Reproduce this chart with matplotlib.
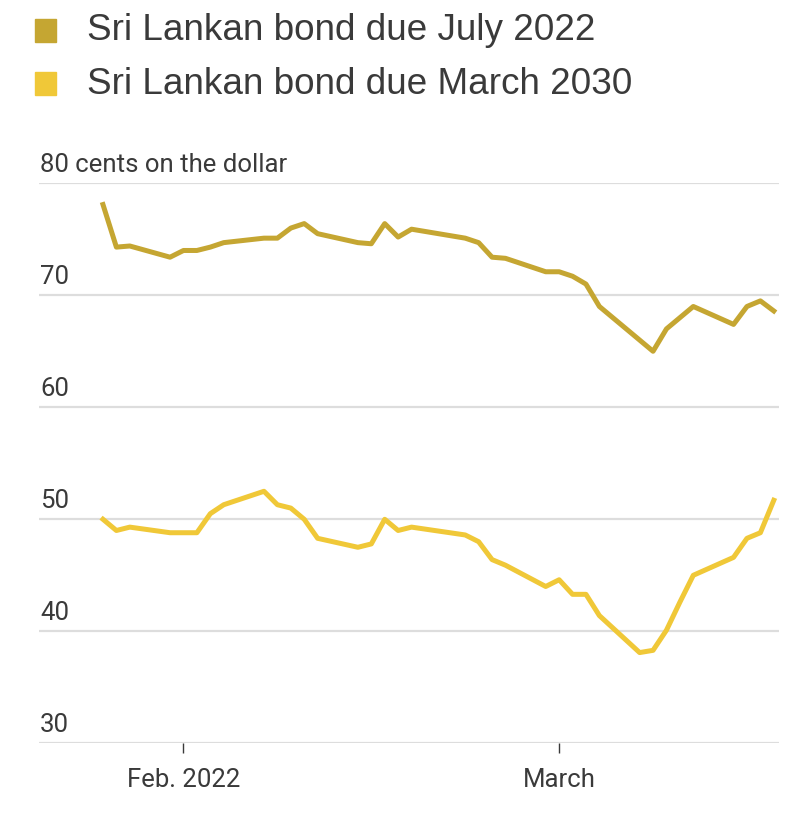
import numpy as np
import pandas as pd
import matplotlib
matplotlib.use("Agg")
import matplotlib.pyplot as plt
import matplotlib.dates as mdates
import matplotlib.transforms as mtransforms
from matplotlib.patches import Rectangle

dates = ["2022-01-26", "2022-01-27", "2022-01-28", "2022-01-31", "2022-02-01",
         "2022-02-02", "2022-02-03", "2022-02-04", "2022-02-07", "2022-02-08",
         "2022-02-09", "2022-02-10", "2022-02-11", "2022-02-14", "2022-02-15",
         "2022-02-16", "2022-02-17", "2022-02-18", "2022-02-22", "2022-02-23",
         "2022-02-24", "2022-02-25", "2022-02-28", "2022-03-01", "2022-03-02",
         "2022-03-03", "2022-03-04", "2022-03-07", "2022-03-08", "2022-03-09",
         "2022-03-10", "2022-03-11", "2022-03-14", "2022-03-15", "2022-03-16",
         "2022-03-17"]
bond_2022 = [78.1, 74.3, 74.4, 73.4, 74.0, 74.0, 74.3, 74.7, 75.1, 75.1,
             76.0, 76.4, 75.5, 74.7, 74.6, 76.4, 75.2, 75.9, 75.1, 74.7,
             73.4, 73.3, 72.1, 72.1, 71.7, 71.0, 69.0, 66.0, 65.0, 67.0,
             68.0, 69.0, 67.4, 69.0, 69.5, 68.6]
bond_2030 = [50.0, 49.0, 49.3, 48.8, 48.8, 48.8, 50.5, 51.3, 52.5, 51.3,
             51.0, 50.0, 48.3, 47.5, 47.8, 50.0, 49.0, 49.3, 48.6, 48.0,
             46.4, 45.9, 44.0, 44.6, 43.3, 43.3, 41.4, 38.1, 38.3, 40.1,
             42.6, 45.0, 46.6, 48.3, 48.8, 51.7]
series_names = ["Sri Lankan bond due July 2022", "Sri Lankan bond due March 2030"]
colors = ["#C5A632", "#F0C838"]
y_ticks = [30, 40, 50, 60, 70, 80]
y_labels = ["30", "40", "50", "60", "70", "80 cents on the dollar"]
x_tick_dates = ["2022-02-01", "2022-03-01"]
x_tick_labels = ["Feb. 2022", "March"]

narrow = ["Roboto", "DejaVu Sans"]
text_col = "#3a3a3a"

x = pd.to_datetime(dates)

fig = plt.figure(figsize=(8.12, 8.16), dpi=100)
ax = fig.add_axes([0.048, 0.0891, 0.9114, 0.6863])

for v in y_ticks:
    ax.axhline(v, color="#dddddd", lw=1.6, zorder=1)
ax.plot(x, bond_2022, color=colors[0], lw=3.6, zorder=3)
ax.plot(x, bond_2030, color=colors[1], lw=3.6, zorder=3)

feb1 = mdates.date2num(pd.Timestamp("2022-02-01"))
ax.set_xlim(feb1 - 10.77, feb1 + 44.39)
ax.set_ylim(30, 80)

for s in ax.spines.values():
    s.set_visible(False)
ax.set_yticks([])
ax.set_xticks(pd.to_datetime(x_tick_dates))
ax.set_xticklabels(x_tick_labels, fontsize=18.5, family=narrow, color=text_col)
ax.tick_params(axis="x", direction="out", length=7, width=1, color=text_col, pad=11)

trans = mtransforms.blended_transform_factory(ax.transAxes, ax.transData)
for v, lab in zip(y_ticks, y_labels):
    ax.text(0.0015, v + 0.6, lab, transform=trans, ha="left", va="bottom",
            fontsize=18.5, family=narrow, color=text_col)

# legend
for i, (name, c) in enumerate(zip(series_names, colors)):
    ytop = 816 - 19 - i * 53
    fig.patches.append(Rectangle((35 / 812, (ytop - 23) / 816), 21 / 812, 23 / 816,
                                 transform=fig.transFigure, color=c))
    fig.text(87 / 812, (ytop - 12) / 816, name, ha="left", va="center",
             fontsize=26.6, family="Liberation Sans", color=text_col)

fig.savefig("out.png", dpi=100)
